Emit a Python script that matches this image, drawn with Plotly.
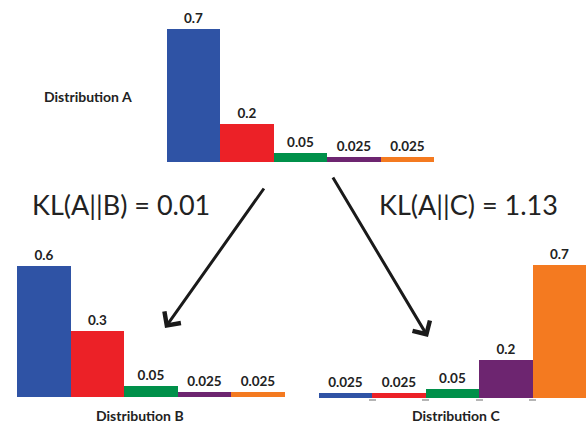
import plotly.graph_objects as go

W, H = 587, 426

categories = ["c1", "c2", "c3", "c4", "c5"]
colors = ["#2F53A5", "#EC2127", "#00904A", "#6D2570", "#F47A20"]

dist_a = [0.7, 0.2, 0.05, 0.025, 0.025]
dist_b = [0.6, 0.3, 0.05, 0.025, 0.025]
dist_c = [0.025, 0.025, 0.05, 0.2, 0.7]

labels_a = ["0.7", "0.2", "0.05", "0.025", "0.025"]
labels_b = ["0.6", "0.3", "0.05", "0.025", "0.025"]
labels_c = ["0.025", "0.025", "0.05", "0.2", "0.7"]

kl_ab = "KL(A||B) = 0.01"
kl_ac = "KL(A||C) = 1.13"

FONT = "Lato"
TXT = "#222222"


def px(x):
    return x / W


def py(y):
    return 1 - y / H


fig = go.Figure()

for vals, labs, ax in [(dist_a, labels_a, "1"), (dist_b, labels_b, "2"), (dist_c, labels_c, "3")]:
    fig.add_trace(go.Bar(
        x=categories, y=vals, text=labs,
        textposition="outside", cliponaxis=False,
        textfont=dict(family=FONT, size=13.5, color=TXT, weight="bold"),
        marker=dict(color=colors, line=dict(width=0)),
        xaxis="x" + ("" if ax == "1" else ax), yaxis="y" + ("" if ax == "1" else ax),
        showlegend=False, hoverinfo="skip",
    ))

hidden = dict(showgrid=False, zeroline=False, showline=False, showticklabels=False, ticks="")

fig.update_layout(
    width=W, height=H,
    margin=dict(l=0, r=0, t=0, b=0),
    paper_bgcolor="white", plot_bgcolor="white",
    bargap=0,
    xaxis=dict(domain=[px(167), px(434)], range=[-0.5, 4.5], **hidden),
    yaxis=dict(domain=[py(162), py(10)], range=[0, 0.8], **hidden),
    xaxis2=dict(domain=[px(17), px(285)], range=[-0.5, 4.5], anchor="y2", **hidden),
    yaxis2=dict(domain=[py(397), py(244)], range=[0, 0.7], anchor="x2", **hidden),
    xaxis3=dict(domain=[px(319), px(586)], range=[-0.5, 4.5], anchor="y3",
                showgrid=False, zeroline=False, showline=False, showticklabels=False,
                ticks="outside", tickmode="array", tickvals=[0.5, 1.5, 2.5, 3.5],
                ticklen=2, tickwidth=7, tickcolor="#B5B5B5"),
    yaxis3=dict(domain=[py(398), py(246)], range=[0, 0.8], anchor="x3", **hidden),
)

annotations = [
    dict(text="<b>Distribution A</b>", x=px(88), y=py(96), font=dict(size=14)),
    dict(text="<b>Distribution B</b>", x=px(140), y=py(415), font=dict(size=14)),
    dict(text="<b>Distribution C</b>", x=px(456), y=py(415), font=dict(size=14)),
    dict(text=kl_ab, x=px(121), y=py(205), font=dict(size=27)),
    dict(text=kl_ac, x=px(468), y=py(205), font=dict(size=27)),
]
for a in annotations:
    a["font"].update(family=FONT, color=TXT)
    fig.add_annotation(xref="paper", yref="paper", showarrow=False,
                       xanchor="center", yanchor="middle", **a)

arrows = [((265, 187), (165, 328)), ((332, 176), (428, 337))]
for (tx, ty), (hx, hy) in arrows:
    fig.add_annotation(xref="paper", yref="paper", x=px(hx), y=py(hy),
                       axref="pixel", ayref="pixel", ax=tx - hx, ay=ty - hy,
                       text="", showarrow=True, arrowhead=4, arrowsize=1.3,
                       arrowwidth=3, arrowcolor="#1a1a1a")

fig.write_html("out.html")
